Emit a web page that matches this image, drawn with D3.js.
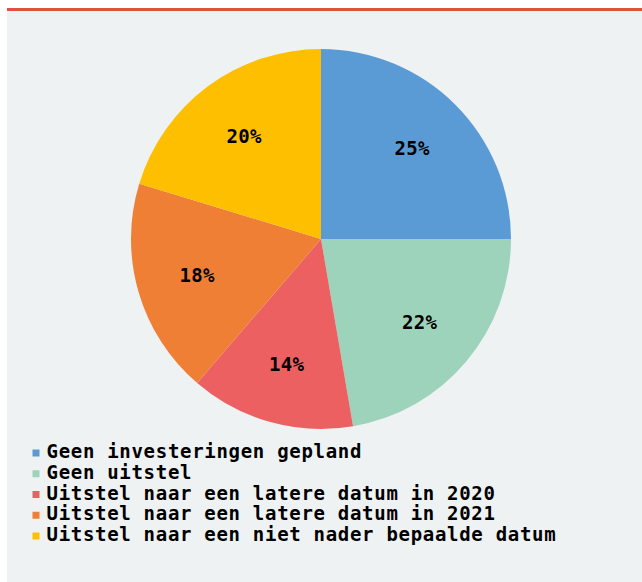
<!DOCTYPE html>
<html><head><meta charset="utf-8">
<script src="https://cdn.jsdelivr.net/npm/d3@7"></script>
<style>
html,body{margin:0;padding:0;background:#fff;}
svg{display:block;}
</style></head>
<body>
<svg id="c" width="642" height="582"></svg>
<script>
const categories = [
  "Geen investeringen gepland",
  "Geen uitstel",
  "Uitstel naar een latere datum in 2020",
  "Uitstel naar een latere datum in 2021",
  "Uitstel naar een niet nader bepaalde datum"
];
const values = [25, 22.3, 14, 18.4, 20.3];
const labels = ["25%", "22%", "14%", "18%", "20%"];
const colors = ["#5b9bd5", "#9ed3bb", "#ec6062", "#ef7f35", "#fdbf00"];

const svg = d3.select("#c");
const W = 642, H = 582;
svg.append("rect").attr("x", 7).attr("y", 11).attr("width", W - 7).attr("height", H - 11).attr("fill", "#eff2f3");
svg.append("rect").attr("x", 7).attr("y", 8).attr("width", W - 7).attr("height", 3).attr("fill", "#e05240");

const cx = 321, cy = 239, r = 190;
const pie = d3.pie().sort(null).value(d => d)(values);
const arc = d3.arc().innerRadius(0).outerRadius(r);
const labelArc = d3.arc().innerRadius(129).outerRadius(129);
const g = svg.append("g").attr("transform", `translate(${cx},${cy})`);
g.selectAll("path").data(pie).join("path")
  .attr("d", arc).attr("fill", (d, i) => colors[i]);
g.selectAll("text").data(pie).join("text")
  .attr("transform", d => `translate(${labelArc.centroid(d)})`)
  .attr("text-anchor", "middle").attr("dy", "0.38em")
  .attr("font-family", "DejaVu Sans Mono").attr("font-weight", "bold")
  .attr("font-size", 19).attr("letter-spacing", 0.3).attr("fill", "#000")
  .text((d, i) => labels[i]);

const y = d3.scalePoint().domain(categories).range([458, 541]);
const lg = svg.append("g");
const items = lg.selectAll("g").data(categories).join("g")
  .attr("transform", d => `translate(0,${y(d)})`);
items.append("rect").attr("x", 32.5).attr("y", -8.5).attr("width", 7).attr("height", 7)
  .attr("fill", (d, i) => colors[i]);
items.append("text").attr("x", 46.5).attr("y", 0)
  .attr("font-family", "DejaVu Sans Mono").attr("font-weight", "bold")
  .attr("font-size", 19).attr("letter-spacing", 0.7).attr("fill", "#000")
  .text(d => d);
</script>
</body></html>
